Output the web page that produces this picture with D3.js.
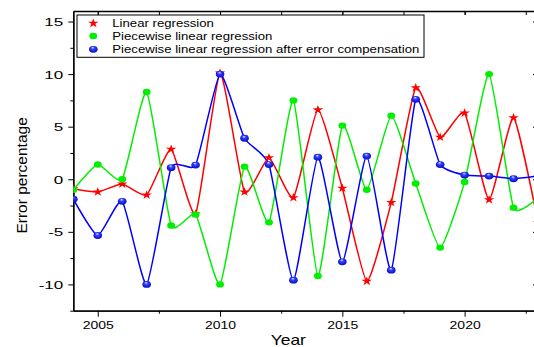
<!DOCTYPE html>
<html>
<head>
<meta charset="utf-8">
<script src="https://cdn.jsdelivr.net/npm/d3@7"></script>
<style>
  body { margin: 0; background: #fff; }
  svg { display: block; font-family: Arial, "Liberation Sans", sans-serif; }
</style>
</head>
<body>
<div class="chart"></div>
<script>
// values
const YEARS = [2004, 2005, 2006, 2007, 2008, 2009, 2010, 2011, 2012, 2013,
  2014, 2015, 2016, 2017, 2018, 2019, 2020, 2021, 2022, 2023];
const LINEAR = [-0.9, -1.2, -0.45, -1.5, 2.85, -3.3, 10.1, -1.2, 2.05, -1.75,
  6.6, -0.85, -9.7, -2.2, 8.7, 4.0, 6.3, -1.95, 5.85, -4.1];
const PIECEWISE = [-1.0, 1.4, 0.0, 8.3, -4.4, -3.35, -10.0, 1.2, -4.1, 7.5,
  -9.2, 5.1, -1.0, 6.05, -0.4, -6.5, -0.25, 10.0, -2.7, -1.7];
const COMPENSATED = [-1.9, -5.35, -2.1, -10.0, 1.1, 1.35, 10.0, 3.9, 1.4, -9.6,
  2.1, -7.85, 2.2, -8.65, 7.6, 1.4, 0.4, 0.3, 0.05, 0.3];
const SERIES_NAMES = ["Linear regression", "Piecewise linear regression",
  "Piecewise linear regression after error compensation"];
const X_TICKS = [2005, 2010, 2015, 2020];
const Y_TICKS = [-10, -5, 0, 5, 10, 15];

const width = 534, height = 347;
const plot = { left: 73.3, right: 538, top: 11, bottom: 310.7 };

const svg = d3.select(".chart").append("svg")
  .attr("width", width)
  .attr("height", height);

const defs = svg.append("defs");
defs.append("clipPath").attr("id", "plot-clip")
  .append("rect")
  .attr("x", plot.left).attr("y", plot.top)
  .attr("width", plot.right - plot.left).attr("height", plot.bottom - plot.top);

// shiny ball for the blue markers
const grad = defs.append("radialGradient").attr("id", "ball")
  .attr("cx", "50%").attr("cy", "50%").attr("r", "60%")
  .attr("fx", "42%").attr("fy", "22%");
grad.append("stop").attr("offset", "0%").attr("stop-color", "#dfe6ff");
grad.append("stop").attr("offset", "35%").attr("stop-color", "#3040ff");
grad.append("stop").attr("offset", "100%").attr("stop-color", "#0000b8");

const xScale = d3.scaleLinear().domain([2004, 2023]).range([plot.left, plot.right]);
const yScale = d3.scaleLinear().domain([-12.5, 16]).range([plot.bottom, plot.top]);

const series = [
  { name: SERIES_NAMES[0], values: LINEAR, color: "#ff0000", marker: "star" },
  { name: SERIES_NAMES[1], values: PIECEWISE, color: "#00ee00", marker: "dot" },
  { name: SERIES_NAMES[2], values: COMPENSATED, color: "#0000ff", marker: "ball" },
];

// minor ticks every 2.5
const xMinor = d3.range(2004, 2023.01, 2.5).map(d => d + 1);
const yMinor = d3.range(-12.5, 16.01, 2.5);

// axes
const stretchText = (sel, sx) => sel.attr("transform", `scale(${sx},1)`);

const bottomAxis = svg.append("g")
  .attr("transform", `translate(0,${plot.bottom})`)
  .call(d3.axisBottom(xScale).tickValues(X_TICKS).tickFormat(d => String(d))
    .tickSize(6).tickSizeOuter(0));
bottomAxis.selectAll("text")
  .attr("y", 18.6).attr("dy", 0)
  .attr("font-size", 10).attr("fill", "#000")
  .call(stretchText, 1.4);

svg.append("g")
  .attr("transform", `translate(0,${plot.bottom})`)
  .call(d3.axisBottom(xScale).tickValues(xMinor.filter(d => X_TICKS.indexOf(d) < 0))
    .tickSize(3).tickSizeOuter(0).tickFormat(""));

// plain hyphen for negative labels, as in the original
const leftAxis = svg.append("g")
  .attr("transform", `translate(${plot.left},0)`)
  .call(d3.axisLeft(yScale).tickValues(Y_TICKS).tickFormat(d => String(d))
    .tickSize(5).tickSizeOuter(0));
leftAxis.selectAll("text")
  .attr("x", -10 / 1.55).attr("dy", "0.36em")
  .attr("font-size", 11).attr("fill", "#000")
  .call(stretchText, 1.55);

svg.append("g")
  .attr("transform", `translate(${plot.left},0)`)
  .call(d3.axisLeft(yScale).tickValues(yMinor.filter(d => Y_TICKS.indexOf(d) < 0))
    .tickSize(3).tickSizeOuter(0).tickFormat(""));

// mirrored top / right axes with inward ticks
svg.append("g")
  .attr("transform", `translate(0,${plot.top})`)
  .call(d3.axisBottom(xScale).tickValues(xMinor.concat(X_TICKS))
    .tickSize(4).tickSizeOuter(0).tickFormat(""));

svg.append("g")
  .attr("transform", `translate(${plot.right},0)`)
  .call(d3.axisLeft(yScale).tickValues(Y_TICKS).tickSize(5).tickSizeOuter(0).tickFormat(""));

svg.selectAll(".domain").attr("stroke", "#000").attr("stroke-width", 1.3);
svg.selectAll(".tick line").attr("stroke", "#000").attr("stroke-width", 1);

// axis titles
svg.append("text")
  .attr("transform", `translate(288.3,345) scale(1.16,1)`)
  .attr("text-anchor", "middle")
  .attr("font-size", 15)
  .text("Year");

svg.append("text")
  .attr("transform", `translate(27.3,175.4) rotate(-90)`)
  .attr("text-anchor", "middle")
  .attr("font-size", 15.5)
  .text("Error percentage");

// lines
const line = d3.line()
  .x((d, i) => xScale(YEARS[i]))
  .y(d => yScale(d))
  .curve(d3.curveCardinal.tension(0.5));

const plotArea = svg.append("g").attr("clip-path", "url(#plot-clip)");

plotArea.selectAll(".series-line")
  .data(series)
  .join("path")
  .attr("class", "series-line")
  .attr("d", d => line(d.values))
  .attr("fill", "none")
  .attr("stroke", d => d.color)
  .attr("stroke-width", 1.5);

// markers
function drawMarker(g, type) {
  if (type === "star") {
    g.append("path")
      .attr("d", d3.symbol(d3.symbolStar, 26)())
      .attr("transform", "scale(1.15,1)")
      .attr("fill", "#ff0000");
  } else if (type === "dot") {
    g.append("ellipse").attr("rx", 3.9).attr("ry", 3.2).attr("fill", "#00ee00");
  } else {
    g.append("ellipse").attr("rx", 4.3).attr("ry", 3.4).attr("fill", "url(#ball)");
  }
}

series.forEach(s => {
  plotArea.append("g")
    .selectAll("g")
    .data(s.values)
    .join("g")
    .attr("transform", (d, i) => `translate(${xScale(YEARS[i])},${yScale(d)})`)
    .each(function () { drawMarker(d3.select(this), s.marker); });
});

// legend
const legend = svg.append("g");
legend.append("rect")
  .attr("x", 77).attr("y", 15)
  .attr("width", 347).attr("height", 42.3)
  .attr("fill", "#fff")
  .attr("stroke", "#000")
  .attr("stroke-width", 1);

const rows = legend.selectAll(".legend-row")
  .data(series)
  .join("g")
  .attr("class", "legend-row")
  .attr("transform", (d, i) => `translate(93.3,${[23.3, 36, 49.3][i]})`);

rows.each(function (d) { drawMarker(d3.select(this), d.marker); });

rows.append("text")
  .attr("transform", "translate(19,3.7) scale(1.29,1)")
  .attr("font-size", 10.2)
  .text(d => d.name);
</script>
</body>
</html>
